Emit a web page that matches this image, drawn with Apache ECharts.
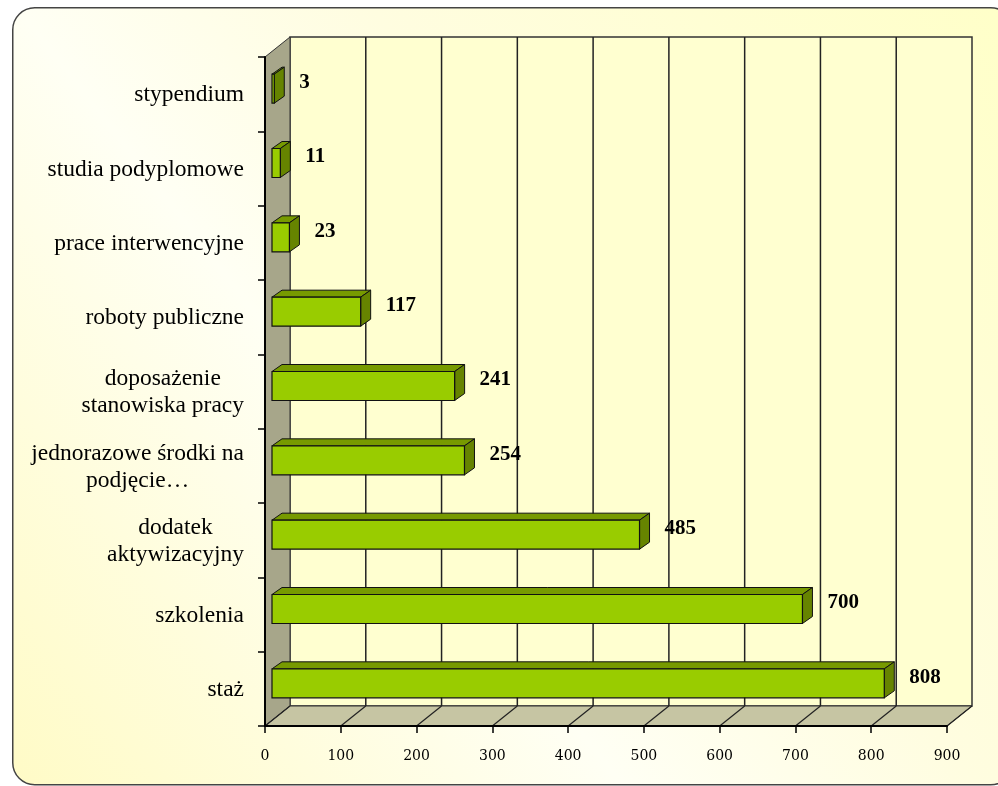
<!DOCTYPE html>
<html>
<head>
<meta charset="utf-8">
<script src="https://cdn.jsdelivr.net/npm/echarts@6/dist/echarts.min.js"></script>
<style>
  html, body { margin: 0; padding: 0; background: #fff; }
  #main { width: 998px; height: 786px; }
</style>
</head>
<body>
<div id="main"></div>
<script>
// categories top -> bottom
var categories = ['stypendium', 'studia podyplomowe', 'prace interwencyjne', 'roboty publiczne',
  'doposażenie\nstanowiska pracy', 'jednorazowe środki na\npodjęcie…', 'dodatek\naktywizacyjny',
  'szkolenia', 'staż'];
var values = [3, 11, 23, 117, 241, 254, 485, 700, 808];
var xTicks = [0, 100, 200, 300, 400, 500, 600, 700, 800, 900];

// depth of the 3d box
var DX = 25, DY = -20;
var CAT_FONT = '23.5px "Liberation Serif"';

var measure = document.createElement('canvas').getContext('2d');
measure.font = CAT_FONT;
function blockWidth(txt) {
  var w = 0;
  txt.split('\n').forEach(function (l) { w = Math.max(w, measure.measureText(l).width); });
  return w;
}

var chart = echarts.init(document.getElementById('main'), null, { renderer: 'canvas' });

function renderWalls(params, api) {
  var cs = params.coordSys;
  var x = cs.x, y = cs.y, w = cs.width, h = cs.height;
  var kids = [];
  // back wall
  kids.push({ type: 'rect', shape: { x: x + DX, y: y + DY, width: w, height: h },
    style: { fill: '#ffffd0', stroke: '#333', lineWidth: 1.5 } });
  // side wall
  kids.push({ type: 'polygon', shape: { points: [[x, y], [x + DX, y + DY], [x + DX, y + h + DY], [x, y + h]] },
    style: { fill: '#a7a68a', stroke: '#333', lineWidth: 1 } });
  // floor
  kids.push({ type: 'polygon', shape: { points: [[x, y + h], [x + w, y + h], [x + w + DX, y + h + DY], [x + DX, y + h + DY]] },
    style: { fill: '#c6c5a3', stroke: '#333', lineWidth: 1 } });
  xTicks.forEach(function (t) {
    var tx = api.coord([t, 0])[0];
    if (t > 0 && t < 900) {
      kids.push({ type: 'line', shape: { x1: tx + DX, y1: y + DY, x2: tx + DX, y2: y + h + DY },
        style: { stroke: '#222', lineWidth: 1.5 } });
    }
    kids.push({ type: 'line', shape: { x1: tx, y1: y + h, x2: tx + DX, y2: y + h + DY },
      style: { stroke: '#222', lineWidth: 1.2 } });
  });
  // category labels, lines centered within each block, block right aligned
  categories.forEach(function (c, i) {
    var cy = api.coord([0, i])[1];
    var bw = blockWidth(c);
    kids.push({ type: 'text', style: { text: c, x: x - 21 - bw / 2, y: cy + 1, font: CAT_FONT,
      fill: '#000', align: 'center', verticalAlign: 'middle', lineHeight: 27 } });
  });
  return { type: 'group', children: kids };
}

function renderBar(params, api) {
  var v = api.value(0), idx = api.value(1);
  var c0 = api.coord([0, idx]);
  var c1 = api.coord([v, idx]);
  var band = api.size([0, 1])[1];
  var bh = band * 0.39;
  var x0 = c0[0] + 7, x1 = c1[0] + 7;
  var yc = c0[1] - 5.5;
  var y0 = yc - bh / 2, y1 = yc + bh / 2;
  var dx = 10, dy = -7;
  return {
    type: 'group',
    children: [
      { type: 'polygon', shape: { points: [[x0, y0], [x1, y0], [x1 + dx, y0 + dy], [x0 + dx, y0 + dy]] },
        style: { fill: '#779a00', stroke: '#111', lineWidth: 1 } },
      { type: 'polygon', shape: { points: [[x1, y0], [x1 + dx, y0 + dy], [x1 + dx, y1 + dy], [x1, y1]] },
        style: { fill: '#668400', stroke: '#111', lineWidth: 1 } },
      { type: 'rect', shape: { x: x0, y: y0, width: x1 - x0, height: bh },
        style: { fill: '#99cc00', stroke: '#111', lineWidth: 1.2 } },
      { type: 'text', style: { text: String(v), x: x1 + dx + 15, y: yc - 6,
        font: 'bold 21px "Liberation Serif"', fill: '#000', align: 'left', verticalAlign: 'middle' } }
    ]
  };
}

var option = {
  animation: false,
  graphic: [{
    type: 'rect', left: 12, top: 7, z: -10,
    shape: { width: 1000, height: 777, r: 22 },
    style: {
      stroke: '#444', lineWidth: 1.5,
      fill: new echarts.graphic.LinearGradient(0, 1, 1, 0, [
        { offset: 0, color: '#fffbc6' },
        { offset: 0.38, color: '#fffff4' },
        { offset: 0.6, color: '#fffde0' },
        { offset: 1, color: '#ffffc8' }
      ])
    }
  }],
  grid: { left: 265, right: 51, top: 57, bottom: 60 },
  xAxis: {
    type: 'value', min: 0, max: 900, interval: 100, z: 10,
    axisLine: { show: true, lineStyle: { color: '#000', width: 2 } },
    axisTick: { show: true, length: 7, lineStyle: { color: '#000', width: 1.5 } },
    axisLabel: { margin: 23, fontFamily: 'DejaVu Serif', fontSize: 14, color: '#000' },
    splitLine: { show: false }
  },
  yAxis: {
    type: 'category', inverse: true, z: 10,
    data: categories,
    axisLine: { show: true, lineStyle: { color: '#000', width: 2 } },
    axisTick: { show: true, length: 7, lineStyle: { color: '#000', width: 1.5 } },
    axisLabel: { show: false },
    splitLine: { show: false }
  },
  series: [{
    type: 'custom', z: 1, silent: true,
    renderItem: renderWalls,
    data: [[0, 0]]
  }, {
    type: 'custom', z: 3,
    renderItem: renderBar,
    encode: { x: 0, y: 1 },
    data: values.map(function (v, i) { return [v, i]; })
  }]
};

chart.setOption(option);
</script>
</body>
</html>
